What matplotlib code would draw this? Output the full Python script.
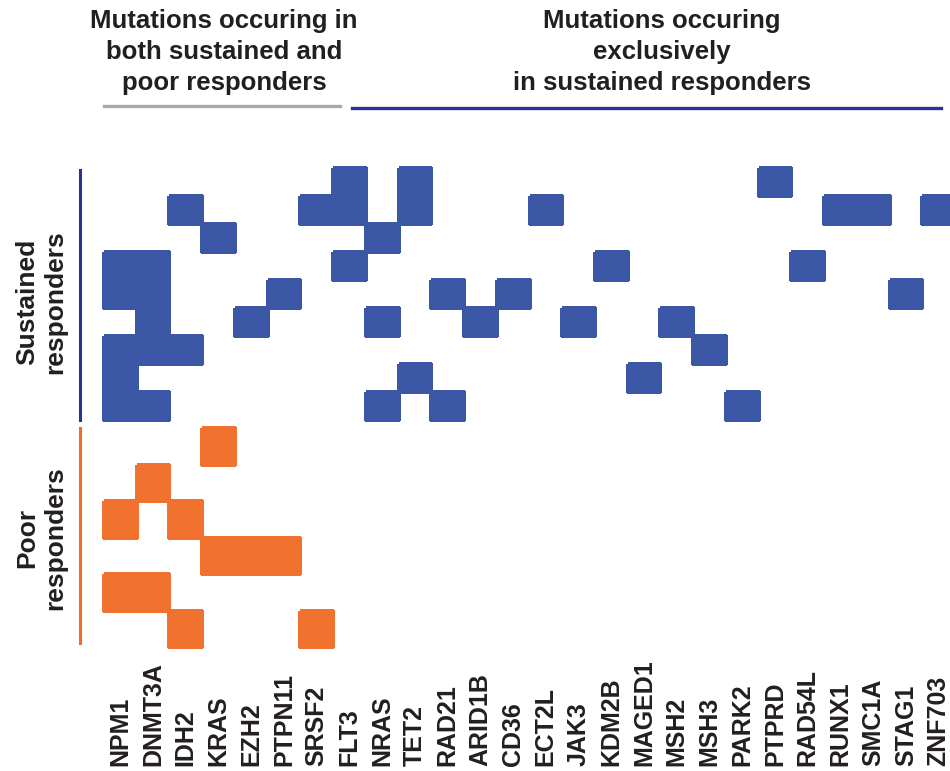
import numpy as np
import matplotlib
matplotlib.use('Agg')
import matplotlib.pyplot as plt
from matplotlib.colors import ListedColormap
from matplotlib.lines import Line2D
from matplotlib.transforms import blended_transform_factory

genes = ['NPM1', 'DNMT3A', 'IDH2', 'KRAS', 'EZH2', 'PTPN11', 'SRSF2',
         'FLT3', 'NRAS', 'TET2', 'RAD21', 'ARID1B', 'CD36', 'ECT2L', 'JAK3',
         'KDM2B', 'MAGED1', 'MSH2', 'MSH3', 'PARK2', 'PTPRD', 'RAD54L',
         'RUNX1', 'SMC1A', 'STAG1', 'ZNF703']

# one list of mutated genes per patient
sustained = [
    ['FLT3', 'TET2', 'PTPRD'],
    ['IDH2', 'SRSF2', 'FLT3', 'TET2', 'ECT2L', 'RUNX1', 'SMC1A', 'ZNF703'],
    ['KRAS', 'NRAS'],
    ['NPM1', 'DNMT3A', 'FLT3', 'KDM2B', 'RAD54L'],
    ['NPM1', 'DNMT3A', 'PTPN11', 'RAD21', 'CD36', 'STAG1'],
    ['DNMT3A', 'EZH2', 'NRAS', 'ARID1B', 'JAK3', 'MSH2'],
    ['NPM1', 'DNMT3A', 'IDH2', 'MSH3'],
    ['NPM1', 'TET2', 'MAGED1'],
    ['NPM1', 'DNMT3A', 'NRAS', 'RAD21', 'PARK2'],
]

poor = [
    ['KRAS'],
    ['DNMT3A'],
    ['NPM1', 'IDH2'],
    ['KRAS', 'EZH2', 'PTPN11'],
    ['NPM1', 'DNMT3A'],
    ['IDH2', 'SRSF2'],
]

blue = '#3a56a5'
orange = '#f1722f'
text_col = '#231f20'

plt.rcParams['font.family'] = ['Liberation Sans', 'DejaVu Sans']
plt.rcParams['font.weight'] = 'bold'

W, H = 950, 771
fig = plt.figure(figsize=(W / 100, H / 100), dpi=100)


def px_axes(x0, y0, x1, y1):
    return fig.add_axes([x0 / W, 1 - y1 / H, (x1 - x0) / W, (y1 - y0) / H])


def to_matrix(rows):
    m = np.zeros((len(rows), len(genes)))
    for i, row in enumerate(rows):
        for g in row:
            m[i, genes.index(g)] = 1
    return np.ma.masked_equal(m, 0)


def draw_block(ax, rows, color):
    m = to_matrix(rows)
    ax.pcolormesh(np.arange(len(genes) + 1), np.arange(len(rows) + 1), m,
                  cmap=ListedColormap([color]), edgecolors='face',
                  linewidth=1.5, clip_on=False)
    ax.set_xlim(0, len(genes))
    ax.set_ylim(len(rows), 0)
    ax.axis('off')


ax_s = px_axes(104, 168, 955, 420)
draw_block(ax_s, sustained, blue)
ax_p = px_axes(104, 428, 955, 647)
draw_block(ax_p, poor, orange)

# gene names, all starting from the same baseline
tr = blended_transform_factory(ax_p.transData, fig.transFigure)
for i, g in enumerate(genes):
    ax_p.text(i + 0.5, 1 - 766 / H, g, transform=tr, rotation=90,
              ha='center', va='bottom', fontsize=18, color=text_col)

# header texts and brackets
fig.text(224 / W, 1 - 52 / H,
         'Mutations occuring in\nboth sustained and\npoor responders',
         ha='center', va='center', multialignment='center',
         fontsize=18.5, linespacing=1.36, color=text_col)
fig.text(662 / W, 1 - 52 / H,
         'Mutations occuring\nexclusively\nin sustained responders',
         ha='center', va='center', multialignment='center',
         fontsize=18.5, linespacing=1.36, color=text_col)

fig.add_artist(Line2D([104 / W, 340 / W], [1 - 106 / H, 1 - 106 / H],
                      color='#a7a9ac', linewidth=2.4))
fig.add_artist(Line2D([352 / W, 941 / W], [1 - 108 / H, 1 - 108 / H],
                      color='#2e3192', linewidth=2.4))

# group labels on the left
fig.text(41 / W, 1 - 302 / H, 'Sustained\nresponders', rotation=90,
         ha='center', va='center', multialignment='center',
         fontsize=19, linespacing=1.22, color=text_col)
fig.text(41 / W, 1 - 538 / H, 'Poor\nresponders', rotation=90,
         ha='center', va='center', multialignment='center',
         fontsize=19, linespacing=1.22, color=text_col)

fig.add_artist(Line2D([80 / W, 80 / W], [1 - 170 / H, 1 - 420 / H],
                      color='#2e3192', linewidth=2.2))
fig.add_artist(Line2D([80 / W, 80 / W], [1 - 428 / H, 1 - 643 / H],
                      color='#f26a2d', linewidth=2.2))

fig.savefig('out.png', dpi=100, facecolor='white')
